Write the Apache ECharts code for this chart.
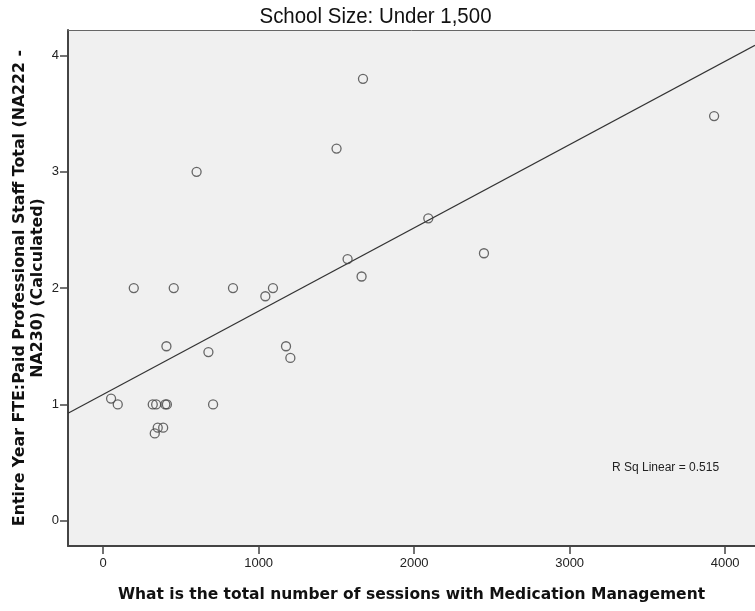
<!DOCTYPE html>
<html>
<head>
<meta charset="utf-8">
<script src="https://cdn.jsdelivr.net/npm/echarts@6/dist/echarts.min.js"></script>
<style>
  html, body { margin: 0; padding: 0; background: #fff; }
  #chart { width: 755px; height: 611px; }
</style>
</head>
<body>
<div id="chart"></div>
<script>
// Medication Management sessions vs. paid professional staff FTE, schools under 1,500
const sessions = [51, 94, 197, 319, 341, 400, 410, 332, 351, 386, 407, 454, 601, 677, 707,
                  835, 1043, 1092, 1176, 1204, 1501, 1572, 1662, 1671, 2091, 2449, 3929];
const fte = [1.05, 1.0, 2.0, 1.0, 1.0, 1.0, 1.0, 0.75, 0.80, 0.80, 1.5, 2.0, 3.0, 1.45, 1.0,
             2.0, 1.93, 2.0, 1.5, 1.4, 3.2, 2.25, 2.1, 3.8, 2.6, 2.3, 3.48];
const xTicks = [0, 1000, 2000, 3000, 4000];
const yTicks = [0, 1, 2, 3, 4];

const X_MIN = -226, X_MAX = 4192;
const Y_MIN = -0.218, Y_MAX = 4.22;

// Least-squares linear fit
const n = sessions.length;
const mx = sessions.reduce((a, b) => a + b, 0) / n;
const my = fte.reduce((a, b) => a + b, 0) / n;
let sxy = 0, sxx = 0, syy = 0;
for (let i = 0; i < n; i++) {
  const dx = sessions[i] - mx, dy = fte[i] - my;
  sxy += dx * dy; sxx += dx * dx; syy += dy * dy;
}
const slope = sxy / sxx;
const intercept = my - slope * mx;
const r2 = (sxy * sxy) / (sxx * syy);
const fitLine = [[X_MIN, intercept + slope * X_MIN], [X_MAX, intercept + slope * X_MAX]];

const chart = echarts.init(document.getElementById('chart'), null, { renderer: 'canvas' });
const labelFont = { fontFamily: 'Arial, "Liberation Sans", sans-serif', fontSize: 13, color: '#222',
                    formatter: v => String(v) };
const titleFont = { fontFamily: '"DejaVu Sans", Verdana, sans-serif', fontWeight: 'bold', color: '#111' };

chart.setOption({
  animation: false,
  backgroundColor: '#ffffff',
  grid: { left: 68, right: 0, top: 30, bottom: 65, show: true, backgroundColor: '#f0f0f0', borderWidth: 0,
          containLabel: false, outerBoundsMode: 'none' },
  xAxis: [{
    type: 'value', min: X_MIN, max: X_MAX,
    name: 'What is the total number of sessions with Medication Management',
    nameLocation: 'middle', nameGap: 41, nameMoveOverlap: false,
    nameTextStyle: Object.assign({ fontSize: 15.5 }, titleFont),
    axisLine: { show: true, onZero: false, lineStyle: { color: '#444', width: 2 } },
    axisTick: { show: true, length: 8, customValues: xTicks, lineStyle: { color: '#444', width: 1.5 } },
    axisLabel: Object.assign({ customValues: xTicks, margin: 11 }, labelFont),
    splitLine: { show: false }
  }, {
    type: 'value', position: 'top', min: X_MIN, max: X_MAX,
    axisLine: { show: true, onZero: false, lineStyle: { color: '#666', width: 1 } },
    axisTick: { show: false }, axisLabel: { show: false }, splitLine: { show: false }
  }],
  yAxis: {
    type: 'value', min: Y_MIN, max: Y_MAX,
    name: 'Entire Year FTE:Paid Professional Staff Total (NA222 -\nNA230) (Calculated)',
    nameLocation: 'middle', nameGap: 21.5, nameRotate: 90, nameMoveOverlap: false,
    nameTextStyle: Object.assign({ fontSize: 15.8, lineHeight: 18 }, titleFont),
    axisLine: { show: true, onZero: false, lineStyle: { color: '#444', width: 2 } },
    axisTick: { show: true, length: 8, customValues: yTicks, lineStyle: { color: '#444', width: 1.5 } },
    axisLabel: Object.assign({ customValues: yTicks, margin: 9 }, labelFont),
    splitLine: { show: false }
  },
  series: [{
    type: 'line',
    data: fitLine,
    symbol: 'none',
    lineStyle: { color: '#333', width: 1.2 },
    silent: true,
    z: 2
  }, {
    type: 'scatter',
    data: sessions.map((x, i) => [x, fte[i]]),
    symbol: 'circle',
    symbolSize: 9,
    itemStyle: { color: 'rgba(0,0,0,0)', borderColor: '#444', borderWidth: 1.3 },
    z: 3
  }],
  graphic: [{
    // chart title, slightly condensed
    type: 'text',
    x: 375.5, y: 17,
    scaleX: 0.93,
    style: { text: 'School Size: Under 1,500', font: '22px Arial, "Liberation Sans", sans-serif',
             fill: '#111', align: 'center', verticalAlign: 'middle' }
  }, {
    type: 'text',
    left: 612, top: 462,
    style: { text: 'R Sq Linear = ' + r2.toFixed(3), font: '12px Arial, "Liberation Sans", sans-serif', fill: '#222' }
  }]
});
</script>
</body>
</html>
